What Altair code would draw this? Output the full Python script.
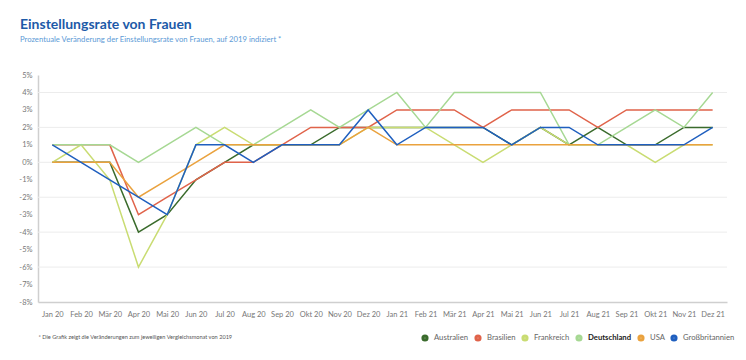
import altair as alt
import pandas as pd

months = ["Jan 20", "Feb 20", "Mär 20", "Apr 20", "Mai 20", "Jun 20", "Jul 20", "Aug 20",
          "Sep 20", "Okt 20", "Nov 20", "Dez 20", "Jan 21", "Feb 21", "Mär 21", "Apr 21",
          "Mai 21", "Jun 21", "Jul 21", "Aug 21", "Sep 21", "Okt 21", "Nov 21", "Dez 21"]

countries = ["Australien", "Brasilien", "Frankreich", "Deutschland", "USA", "Großbritannien"]
colors = ["#3a6b2c", "#e0634a", "#c9dc72", "#a6d893", "#eaa23e", "#1f5fbf"]

australien = [0, 0, 0, -4, -3, -1, 0, 1, 1, 1, 2, 2, 2, 2, 2, 2, 1, 2, 1, 2, 1, 1, 2, 2]
brasilien = [1, 1, 1, -3, -2, -1, 0, 0, 1, 2, 2, 2, 3, 3, 3, 2, 3, 3, 3, 2, 3, 3, 3, 3]
frankreich = [0, 1, -1, -6, -3, 1, 2, 1, 1, 1, 1, 2, 2, 2, 1, 0, 1, 2, 1, 1, 1, 0, 1, 1]
deutschland = [1, 1, 1, 0, 1, 2, 1, 1, 2, 3, 2, 3, 4, 2, 4, 4, 4, 4, 1, 1, 2, 3, 2, 4]
usa = [0, 0, 0, -2, -1, 0, 1, 1, 1, 1, 1, 2, 1, 1, 1, 1, 1, 1, 1, 1, 1, 1, 1, 1]
grossbritannien = [1, 0, -1, -2, -3, 1, 1, 0, 1, 1, 1, 3, 1, 2, 2, 2, 1, 2, 2, 1, 1, 1, 1, 2]

y_ticks = list(range(-8, 6))
grid_values = [-6, -4, -2, 0, 2, 4]

series = [australien, brasilien, frankreich, deutschland, usa, grossbritannien]
rows = []
for c, vals in zip(countries, series):
    for m, v in zip(months, vals):
        rows.append({"Land": c, "Monat": m, "Wert": v})
df = pd.DataFrame(rows)

FONT = "Lato"

y_scale = alt.Scale(domain=[-8, 5], nice=False, zero=False)
y_axis = alt.Axis(values=y_ticks, labelExpr="datum.value + '%'", grid=False, ticks=False,
                  domain=True, domainColor="#cfcfcf", domainWidth=1.5,
                  labelFontSize=7.5, labelColor="#777777", labelPadding=6, title=None,
                  labelFont=FONT)

grid = alt.Chart(pd.DataFrame({"v": grid_values})).mark_rule(
    color="#ececec", strokeWidth=1
).encode(y=alt.Y("v:Q", scale=y_scale, axis=y_axis))

lines = alt.Chart(df).mark_line(strokeWidth=1.5).encode(
    x=alt.X("Monat:O", sort=months,
            scale=alt.Scale(type="point", padding=0.5),
            axis=alt.Axis(labelAngle=0, ticks=False, domainColor="#cfcfcf", domainWidth=1.5,
                          labelPadding=8, labelFontSize=7.5, labelColor="#777777", labelFont=FONT,
                          title="* Die Grafik zeigt die Veränderungen zum jeweiligen Vergleichsmonat von 2019",
                          titleAnchor="start", titleAlign="left", titleX=0, titleY=32,
                          titleFontSize=5.6, titleFontWeight="normal", titleColor="#555555",
                          titleFont=FONT)),
    y=alt.Y("Wert:Q", scale=y_scale, axis=y_axis),
    color=alt.Color("Land:N", sort=countries,
                    scale=alt.Scale(domain=countries, range=colors),
                    legend=alt.Legend(orient="none", direction="horizontal", legendX=383, legendY=259,
                                      title=None, symbolType="circle", symbolSize=10,
                                      symbolStrokeWidth=4, symbolOpacity=1,
                                      labelFontSize=7.7, labelFont=FONT, labelOffset=5,
                                      columnPadding=-1, gridAlign="none",
                                      labelColor=alt.ExprRef(expr="datum.label == 'Deutschland' ? '#222222' : '#666666'"),
                                      labelFontWeight=alt.ExprRef(expr="datum.label == 'Deutschland' ? 'bold' : 'normal'"))),
    order=alt.Order("Land:N", sort="ascending"),
)

chart = alt.layer(grid, lines).properties(
    width=689, height=227,
    autosize=alt.AutoSizeParams(type="none"),
    padding={"left": 30, "top": 67, "right": 11, "bottom": 50},
    title=alt.TitleParams(
        text="Einstellungsrate von Frauen",
        subtitle="Prozentuale Veränderung der Einstellungsrate von Frauen, auf 2019 indiziert *",
        anchor="start", frame="group", dx=-18, offset=27,
        font=FONT, fontSize=14, fontWeight="bold", color="#1d5aa8",
        subtitleFont=FONT, subtitleFontSize=7.7, subtitleColor="#5c9ad6", subtitlePadding=4,
    ),
).configure_view(stroke=None)

chart.save("out.html", embed_options={"renderer": "svg", "actions": False})
